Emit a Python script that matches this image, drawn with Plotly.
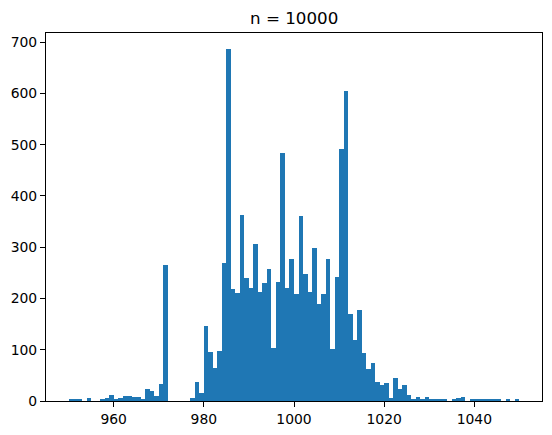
import plotly.graph_objects as go

bin_left = list(range(950, 1050))
counts = [
    4, 2, 2, 0, 6, 0, 0, 2, 6, 12,          # 950-959
    4, 6, 10, 10, 8, 8, 2, 23, 20, 10,       # 960-969
    33, 265, 0, 0, 0, 0, 0, 6, 37, 16,       # 970-979
    146, 96, 64, 98, 269, 687, 219, 211, 363, 240,  # 980-989
    221, 306, 213, 230, 258, 103, 232, 484, 221, 277,  # 990-999
    209, 361, 248, 213, 299, 189, 209, 277, 101, 242,  # 1000-1009
    492, 605, 170, 119, 178, 94, 62, 74, 38, 31,       # 1010-1019
    35, 6, 45, 23, 31, 12, 4, 8, 2, 8,                 # 1020-1029
    4, 2, 2, 4, 0, 2, 6, 8, 0, 2,                      # 1030-1039
    4, 2, 2, 2, 2, 2, 0, 2, 0, 4,                      # 1040-1049
]
x_ticks = [960, 980, 1000, 1020, 1040]
y_ticks = [0, 100, 200, 300, 400, 500, 600, 700]
title_text = "n = 10000"

centers = [b + 0.5 for b in bin_left]

fig = go.Figure(go.Bar(
    x=centers, y=counts, width=1.0,
    marker=dict(color="#1f77b4", line=dict(width=0)),
    hoverinfo="x+y",
))

axis_common = dict(
    showline=True, linecolor="black", linewidth=1.1, mirror=True,
    ticks="outside", ticklen=5, tickwidth=1.1, tickcolor="black",
    showgrid=False, zeroline=False, automargin=False,
    tickfont=dict(family="DejaVu Sans", size=13.9, color="black"),
)

# page body has an 8px default margin, so the figure is offset by 8px
fig.update_layout(
    width=544, height=427, autosize=False,
    margin=dict(l=38, r=10, t=25, b=34),
    paper_bgcolor="white", plot_bgcolor="white",
    bargap=0, showlegend=False,
    xaxis=dict(range=[945, 1055], tickvals=x_ticks, **axis_common),
    yaxis=dict(range=[0, 718], tickvals=y_ticks, **axis_common),
    annotations=[dict(
        text=title_text, xref="paper", yref="paper", x=0.5, y=1,
        xanchor="center", yanchor="bottom", yshift=3, showarrow=False,
        font=dict(family="DejaVu Sans", size=16.7, color="black"),
    )],
)

fig.write_html("out.html")
